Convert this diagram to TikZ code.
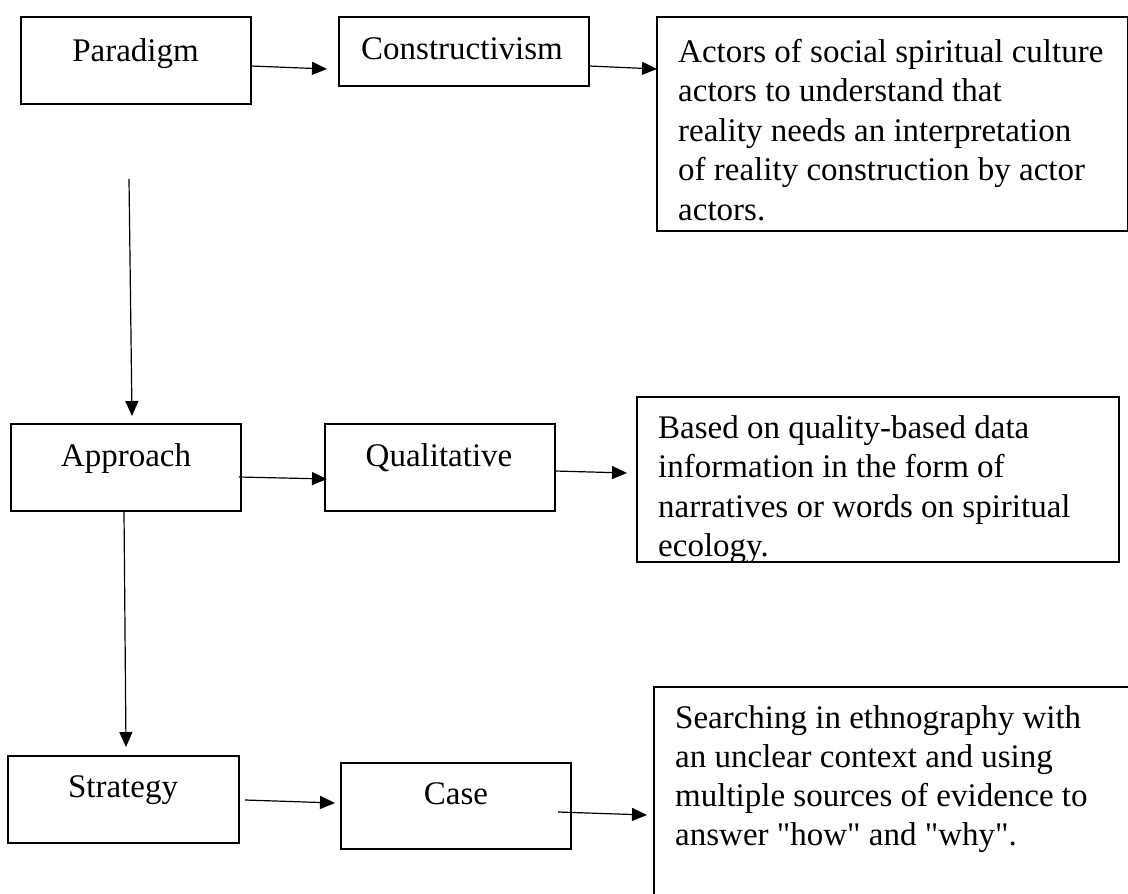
\documentclass[tikz,border=0pt]{standalone}
\usepackage{fontspec}
\setmainfont{Liberation Serif}
\usetikzlibrary{arrows.meta}
\begin{document}
\begin{tikzpicture}[x=1pt,y=-1pt,
  box/.style={draw, line width=1.3pt, inner sep=0pt, rectangle},
  lab/.style={anchor=base, inner sep=0pt, font=\fontsize{33}{39}\selectfont},
  txt/.style={anchor=base west, inner sep=0pt, font=\fontsize{33}{39}\selectfont},
  arr/.style={line width=1.2pt, -{Triangle[length=15pt,width=13pt]}}]
\useasboundingbox (0,0) rectangle (1128,894);
\fill[white] (0,0) rectangle (1128,894);
% boxes
\node[box, minimum width=230pt, minimum height=87pt] (par) at (136,60.5) {};
\node[box, minimum width=250pt, minimum height=69pt] (cons) at (464,51.5) {};
\node[box, minimum width=471pt, minimum height=214pt] (t1) at (892.5,124) {};
\node[box, minimum width=230pt, minimum height=87pt] (app) at (126,467.5) {};
\node[box, minimum width=230pt, minimum height=87pt] (qual) at (440,467.5) {};
\node[box, minimum width=482pt, minimum height=165pt] (t2) at (878,479.5) {};
\node[box, minimum width=231pt, minimum height=87pt] (strat) at (123.5,799.5) {};
\node[box, minimum width=230pt, minimum height=86pt] (case) at (456,806) {};
\coordinate (t3a) at (1130,687);
\coordinate (t3b) at (654,687);
\coordinate (t3c) at (654,896);
\draw[line width=1.3pt] (t3a) -- (t3b) -- (t3c);
% labels
\node[lab] (parl) at (135.5,61) {Paradigm};
\node[lab] (consl) at (462,59) {Constructivism};
\node[lab] (appl) at (126,466) {Approach};
\node[lab] (quall) at (439,466) {Qualitative};
\node[lab] (stratl) at (123,797) {Strategy};
\node[lab] (casel) at (456,804) {Case};
% long texts
\foreach \t [count=\i from 0] in {Actors of social spiritual culture, actors to understand that, reality needs an interpretation, of reality construction by actor, actors.}
  \node[txt] (t1l\i) at (678,62+39.5*\i) {\t};
\begin{scope}
\clip (637,397) rectangle (1119,561);
\foreach \t [count=\i from 0] in {Based on quality-based data, information in the form of, narratives or words on spiritual, ecology.}
  \node[txt] (t2l\i) at (658,438+39.5*\i) {\t};
\end{scope}
\foreach \t [count=\i from 0] in {Searching in ethnography with, an unclear context and using, multiple sources of evidence to, answer \textquotedbl how\textquotedbl{} and \textquotedbl why\textquotedbl.}
  \node[txt] (t3l\i) at (675,728+39*\i) {\t};
% arrows
\coordinate (a1s) at (251,66);  \coordinate (a1e) at (327,69);
\coordinate (a2s) at (589,66);  \coordinate (a2e) at (657,69);
\coordinate (v1s) at (129,179); \coordinate (v1e) at (132,416);
\coordinate (a3s) at (239,477); \coordinate (a3e) at (327,479);
\coordinate (a4s) at (555,471); \coordinate (a4e) at (627,473);
\coordinate (v2s) at (124,511); \coordinate (v2e) at (126,747);
\coordinate (a5s) at (245,800); \coordinate (a5e) at (335,803);
\coordinate (a6s) at (558,812); \coordinate (a6e) at (647,815);
\draw[arr] (a1s) -- (a1e);
\draw[arr] (a2s) -- (a2e);
\draw[arr] (v1s) -- (v1e);
\draw[arr] (a3s) -- (a3e);
\draw[arr] (a4s) -- (a4e);
\draw[arr] (v2s) -- (v2e);
\draw[arr] (a5s) -- (a5e);
\draw[arr] (a6s) -- (a6e);
\end{tikzpicture}
\end{document}
